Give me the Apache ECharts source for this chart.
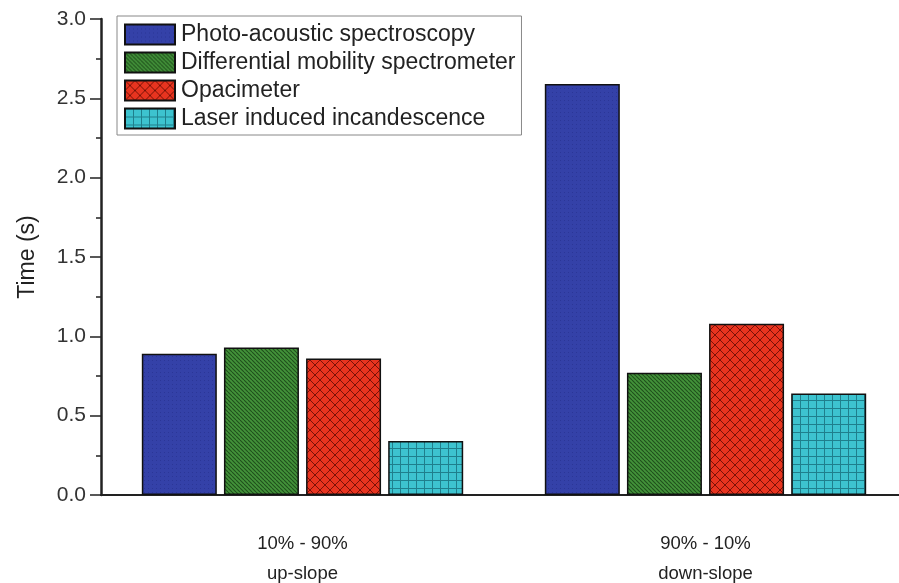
<!DOCTYPE html>
<html>
<head>
<meta charset="utf-8">
<script src="https://cdn.jsdelivr.net/npm/echarts@6/dist/echarts.min.js"></script>
<style>
  html, body { margin: 0; padding: 0; background: #fff; }
  #chart { width: 899px; height: 583px; }
</style>
</head>
<body>
<div id="chart"></div>
<script>
// Response times of four soot measurement techniques
const categories = ['10% - 90%\nup-slope', '90% - 10%\ndown-slope'];
const seriesNames = [
  'Photo-acoustic spectroscopy',
  'Differential mobility spectrometer',
  'Opacimeter',
  'Laser induced incandescence'
];
const photoAcoustic = [0.89, 2.59];
const diffMobility = [0.93, 0.77];
const opacimeter = [0.86, 1.08];
const laserInduced = [0.34, 0.64];
const yTicks = [0, 0.5, 1.0, 1.5, 2.0, 2.5, 3.0];

// Fill patterns drawn on small tiles
function makeTile(size, draw) {
  const c = document.createElement('canvas');
  c.width = size; c.height = size;
  draw(c.getContext('2d'), size);
  return { image: c, repeat: 'repeat' };
}
const bluePattern = makeTile(4, (g, s) => {
  g.fillStyle = '#3441a8'; g.fillRect(0, 0, s, s);
  g.fillStyle = 'rgba(30,35,120,0.35)'; g.fillRect(0, 0, 1, 1);
});
const greenPattern = makeTile(4, (g, s) => {
  g.fillStyle = '#43923a'; g.fillRect(0, 0, s, s);
  g.strokeStyle = '#1f4f1c'; g.lineWidth = 1.1;
  for (let k = -s; k <= s; k += s) {
    g.beginPath(); g.moveTo(k, 0); g.lineTo(k + s, s); g.stroke();
  }
});
const redPattern = makeTile(10, (g, s) => {
  g.fillStyle = '#e8341f'; g.fillRect(0, 0, s, s);
  g.strokeStyle = '#7a1208'; g.lineWidth = 1;
  g.beginPath(); g.moveTo(0, 0); g.lineTo(s, s); g.stroke();
  g.beginPath(); g.moveTo(s, 0); g.lineTo(0, s); g.stroke();
});
const cyanPattern = makeTile(8, (g, s) => {
  g.fillStyle = '#3dc3cf'; g.fillRect(0, 0, s, s);
  g.strokeStyle = '#1f7f8c'; g.lineWidth = 1;
  g.beginPath(); g.moveTo(0.5, 0); g.lineTo(0.5, s); g.stroke();
  g.beginPath(); g.moveTo(0, 0.5); g.lineTo(s, 0.5); g.stroke();
});

const values = [photoAcoustic, diffMobility, opacimeter, laserInduced];
const fills = [bluePattern, greenPattern, redPattern, cyanPattern];

const chart = echarts.init(document.getElementById('chart'), null, { renderer: 'canvas' });
const font = '"Liberation Sans", Arial, sans-serif';

chart.setOption({
  animation: false,
  backgroundColor: '#fff',
  grid: { left: 101, top: 19, bottom: 88, width: 806, outerBoundsMode: 'none', containLabel: false },
  legend: {
    orient: 'vertical',
    left: 117, top: 16,
    itemWidth: 50, itemHeight: 20, itemGap: 5,
    padding: [7, 6, 5, 7],
    borderColor: '#888', borderWidth: 1,
    icon: 'rect',
    textStyle: { fontFamily: font, fontSize: 23, lineHeight: 22, color: '#222', padding: [0, 0, 0, 1] },
    data: seriesNames
  },
  xAxis: {
    type: 'category',
    data: categories,
    axisLine: { lineStyle: { color: '#222', width: 2 } },
    axisTick: { show: false },
    axisLabel: {
      fontFamily: font, fontSize: 18.5, color: '#222',
      lineHeight: 30, margin: 34
    }
  },
  yAxis: {
    type: 'value',
    min: yTicks[0], max: yTicks[yTicks.length - 1], interval: 0.5,
    name: 'Time (s)',
    nameLocation: 'middle', nameGap: 62, nameRotate: 90,
    nameTextStyle: { fontFamily: font, fontSize: 23, color: '#222' },
    axisLine: { show: true, lineStyle: { color: '#222', width: 2.5 } },
    axisTick: { show: true, inside: false, length: 11, lineStyle: { color: '#222', width: 1.5 } },
    minorTick: { show: true, splitNumber: 2, length: 5, lineStyle: { color: '#222', width: 1.5 } },
    splitLine: { show: false },
    axisLabel: {
      fontFamily: font, fontSize: 21, color: '#333', margin: 15,
      formatter: v => v.toFixed(1)
    }
  },
  series: seriesNames.map((name, i) => ({
    name,
    type: 'bar',
    data: values[i],
    barWidth: 75,
    barGap: '9.5%',
    barCategoryGap: '20%',
    itemStyle: { color: fills[i], borderColor: '#111', borderWidth: 1.5 }
  }))
});
</script>
</body>
</html>
